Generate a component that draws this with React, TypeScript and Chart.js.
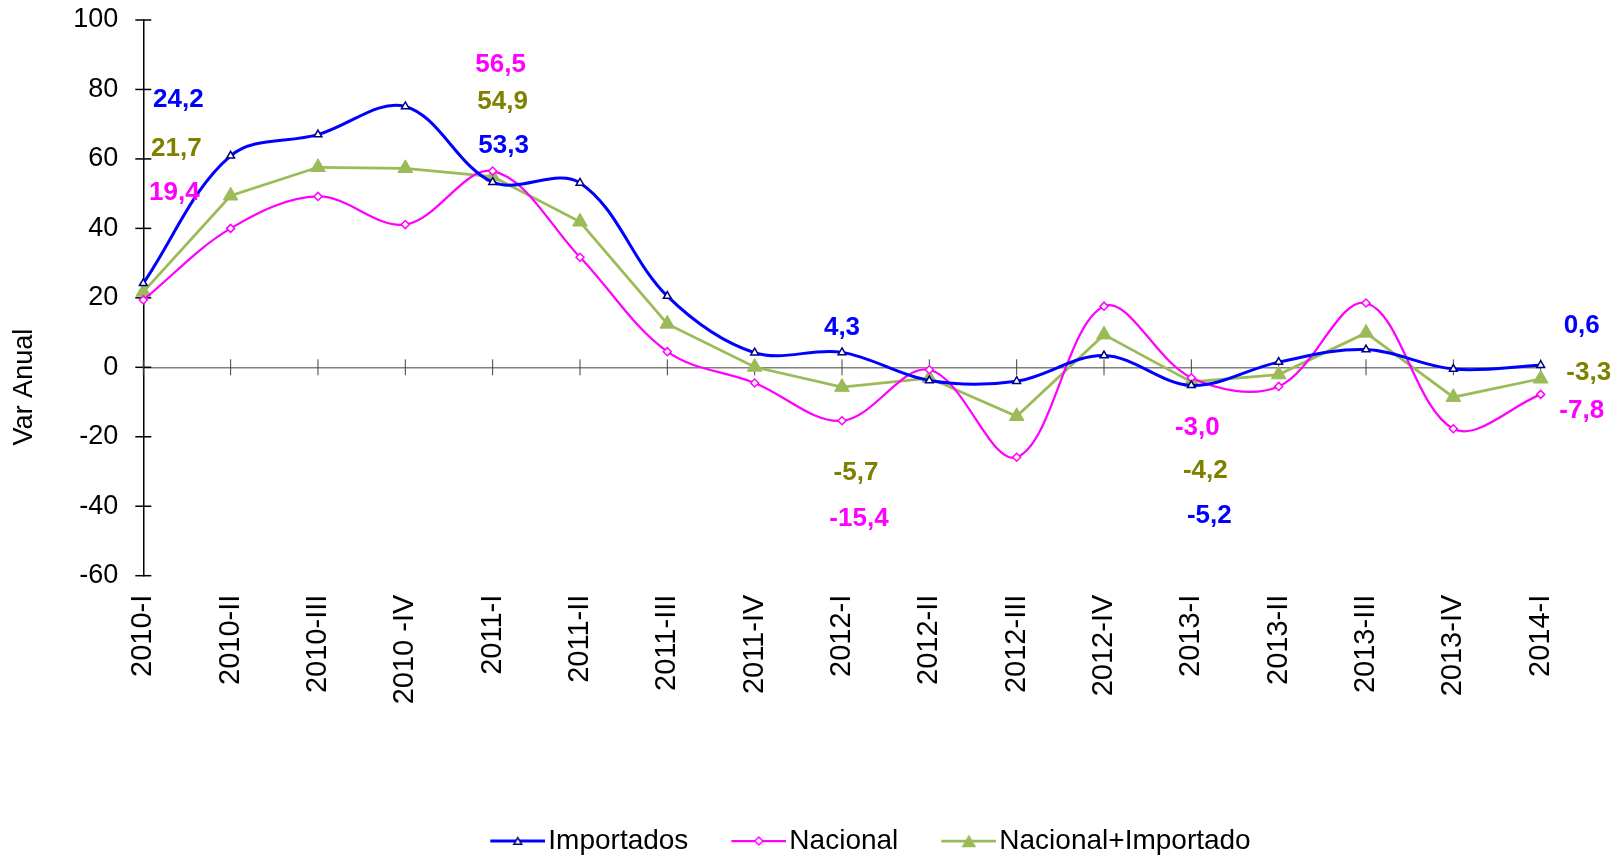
import React, { useEffect, useRef } from 'react';
import { Chart, registerables } from 'chart.js';

Chart.register(...registerables);

const FONT = 'Liberation Sans, Arial, sans-serif';

const categories = [
  '2010-I', '2010-II', '2010-III', '2010 -IV', '2011-I', '2011-II', '2011-III', '2011-IV',
  '2012-I', '2012-II', '2012-III', '2012-IV', '2013-I', '2013-II', '2013-III', '2013-IV', '2014-I',
];
const importados = [24.2, 60.9, 67.0, 75.1, 53.3, 53.1, 20.5, 4.2, 4.3, -3.8, -4.0, 3.4, -5.2, 1.5, 5.1, -0.5, 0.6];
const nacional = [19.4, 40.0, 49.2, 41.1, 56.5, 31.7, 4.5, -4.5, -15.4, -0.7, -25.9, 17.6, -3.0, -5.5, 18.5, -17.7, -7.8];
const nacionalImportado = [21.7, 49.4, 57.6, 57.3, 54.9, 41.9, 12.5, 0.1, -5.7, -3.1, -14.1, 9.4, -4.2, -2.1, 9.9, -8.6, -3.3];

const seriesNames = ['Importados', 'Nacional', 'Nacional+Importado'];
const seriesValues = [importados, nacional, nacionalImportado];
const labelColors = ['#0000FF', '#FF00FF', '#808000'];

const yMin = -60;
const yMax = 100;
const yStep = 20;
const yTitle = 'Var Anual';

// which values carry a printed label: [series, category index]
const labelledPoints: [number, number][] = [
  [0, 0], [2, 0], [1, 0],
  [1, 4], [2, 4], [0, 4],
  [0, 8], [2, 8], [1, 8],
  [1, 12], [2, 12], [0, 12],
  [0, 16], [2, 16], [1, 16],
];
// placement of those labels (value height on the y scale, px shift to the right)
const labelPlacement: [number, number][] = [
  [77.1, 35], [62.9, 33], [50.1, 31],
  [87.1, 8], [76.3, 10], [63.8, 11],
  [11.5, 0], [-30.4, 14], [-43.6, 17],
  [-17.5, 6], [-29.9, 14], [-42.9, 18],
  [12.0, 41], [-1.6, 48], [-12.4, 41],
];

const fmt = (v: number) => v.toFixed(1).replace('.', ',');

function drawTri(ctx: CanvasRenderingContext2D, x: number, y: number, r: number) {
  ctx.beginPath();
  for (let k = 0; k < 3; k++) {
    const a = (k * 2 * Math.PI) / 3;
    const px = x + Math.sin(a) * r;
    const py = y - Math.cos(a) * r;
    if (k === 0) ctx.moveTo(px, py);
    else ctx.lineTo(px, py);
  }
  ctx.closePath();
}
function drawDiamond(ctx: CanvasRenderingContext2D, x: number, y: number, r: number) {
  ctx.beginPath();
  ctx.moveTo(x, y - r);
  ctx.lineTo(x + r, y);
  ctx.lineTo(x, y + r);
  ctx.lineTo(x - r, y);
  ctx.closePath();
}

function makeIcon(kind: number): HTMLCanvasElement {
  const c = document.createElement('canvas');
  c.width = 89;
  c.height = 24;
  const ctx = c.getContext('2d')!;
  const lineColor = ['#0000FF', '#FF00FF', '#9BBB59'][kind];
  const lw = [3, 2.25, 2.75][kind];
  ctx.strokeStyle = lineColor;
  ctx.lineWidth = lw;
  ctx.beginPath();
  ctx.moveTo(34, 12);
  ctx.lineTo(89, 12);
  ctx.stroke();
  const mx = 61.5;
  if (kind === 0) {
    drawTri(ctx, mx, 13, 4.5);
    ctx.fillStyle = '#fff';
    ctx.fill();
    ctx.strokeStyle = '#000080';
    ctx.lineWidth = 1.5;
    ctx.stroke();
  } else if (kind === 1) {
    drawDiamond(ctx, mx, 12, 4);
    ctx.fillStyle = '#fff';
    ctx.fill();
    ctx.strokeStyle = '#FF00FF';
    ctx.lineWidth = 1.5;
    ctx.stroke();
  } else {
    drawTri(ctx, mx, 14, 8.5);
    ctx.fillStyle = '#9BBB59';
    ctx.fill();
  }
  return c;
}

export default function App() {
  const ref = useRef<HTMLCanvasElement | null>(null);

  useEffect(() => {
    document.body.style.margin = '0';
    document.body.style.overflow = 'hidden';
    const canvas = ref.current!;
    const icons = [makeIcon(0), makeIcon(1), makeIcon(2)];

    const crossTicks = {
      id: 'crossTicks',
      beforeDatasetsDraw(chart: any) {
        const { ctx } = chart;
        const xs = chart.scales.x;
        const ys = chart.scales.y;
        ctx.save();
        ctx.strokeStyle = '#000';
        ctx.lineWidth = 1.5;
        ys.ticks.forEach((t: any) => {
          const py = ys.getPixelForValue(t.value);
          ctx.beginPath();
          ctx.moveTo(ys.right - 8, py);
          ctx.lineTo(ys.right + 8, py);
          ctx.stroke();
        });
        const y0 = ys.getPixelForValue(0);
        ctx.strokeStyle = '#404040';
        ctx.lineWidth = 1;
        categories.forEach((_, i) => {
          const px = xs.getPixelForValue(i);
          ctx.beginPath();
          ctx.moveTo(px, y0 - 8);
          ctx.lineTo(px, y0 + 8);
          ctx.stroke();
        });
        ctx.restore();
      },
    };

    const valueLabels = {
      id: 'valueLabels',
      afterDatasetsDraw(chart: any) {
        const { ctx } = chart;
        const xs = chart.scales.x;
        const ys = chart.scales.y;
        ctx.save();
        ctx.font = `bold 26px ${FONT}`;
        ctx.textAlign = 'center';
        ctx.textBaseline = 'middle';
        labelledPoints.forEach(([s, i], k) => {
          const [at, shift] = labelPlacement[k];
          ctx.fillStyle = labelColors[s];
          ctx.fillText(fmt(seriesValues[s][i]), xs.getPixelForValue(i) + shift, ys.getPixelForValue(at));
        });
        ctx.restore();
      },
    };

    const axisTitle = {
      id: 'axisTitle',
      afterDraw(chart: any) {
        const { ctx } = chart;
        ctx.save();
        ctx.font = `27px ${FONT}`;
        ctx.fillStyle = '#000';
        ctx.textAlign = 'center';
        ctx.textBaseline = 'middle';
        ctx.translate(chart.scales.y.left + 25, chart.scales.y.getPixelForValue(-5.7));
        ctx.rotate(-Math.PI / 2);
        ctx.fillText(yTitle, 0, 0);
        ctx.restore();
      },
    };

    const legendShift = {
      id: 'legendShift',
      afterLayout(chart: any) {
        const lg = chart.legend;
        if (!lg || !lg.lineWidths) return;
        const pad = lg.options.labels.padding;
        const total = lg.lineWidths[0];
        const x1 = (lg.left + pad + lg.right - total) / 2;
        const want = 870.5 - (total + 3) / 2;
        const dx = want - x1;
        lg.left += dx;
        lg.right += dx;
      },
    };

    const chart = new Chart(canvas, {
      type: 'line',
      data: {
        labels: categories,
        datasets: [
          {
            label: seriesNames[0],
            data: importados,
            borderColor: '#0000FF',
            borderWidth: 3,
            tension: 0.35,
            pointStyle: 'triangle',
            pointRadius: 4.5,
            pointBorderColor: '#000080',
            pointBackgroundColor: '#FFFFFF',
            pointBorderWidth: 1.5,
            clip: false as any,
            fill: false,
          },
          {
            label: seriesNames[1],
            data: nacional,
            borderColor: '#FF00FF',
            borderWidth: 2.25,
            tension: 0.35,
            pointStyle: 'rectRot',
            pointRadius: 4,
            pointBorderColor: '#FF00FF',
            pointBackgroundColor: '#FFFFFF',
            pointBorderWidth: 1.5,
            clip: false as any,
            fill: false,
          },
          {
            label: seriesNames[2],
            data: nacionalImportado,
            borderColor: '#9BBB59',
            borderWidth: 2.75,
            tension: 0,
            pointStyle: 'triangle',
            pointRadius: 8.5,
            pointBorderColor: '#9BBB59',
            pointBackgroundColor: '#9BBB59',
            pointBorderWidth: 1,
            clip: false as any,
            fill: false,
          },
        ],
      },
      options: {
        responsive: false,
        animation: false,
        devicePixelRatio: 1,
        layout: { padding: { top: 20, right: 81.3, left: 0, bottom: 0 } },
        scales: {
          x: {
            type: 'category',
            offset: false,
            grid: { display: false, drawTicks: false },
            border: { display: false },
            ticks: {
              autoSkip: false,
              maxRotation: 90,
              minRotation: 90,
              padding: 19,
              color: '#000',
              font: { family: FONT, size: 29 },
            },
            afterFit: (s: any) => {
              s.height = 231.3;
            },
          },
          y: {
            min: yMin,
            max: yMax,
            ticks: {
              stepSize: yStep,
              padding: 0,
              color: '#000',
              font: { family: FONT, size: 27 },
              callback: (v: any) => String(v),
            },
            grid: {
              drawTicks: true,
              tickLength: 25,
              tickColor: 'rgba(0,0,0,0)',
              lineWidth: 1.5,
              color: (c: any) => (c.tick && c.tick.value === 0 ? '#808080' : 'rgba(0,0,0,0)'),
            },
            border: { display: true, color: '#000', width: 1.5 },
            afterFit: (s: any) => {
              s.width = 143.3;
            },
          },
        },
        plugins: {
          tooltip: { enabled: false },
          legend: {
            position: 'bottom',
            labels: {
              usePointStyle: true,
              pointStyleWidth: 67,
              padding: 20,
              color: '#000',
              font: { family: FONT, size: 28 },
              generateLabels: (ch: any) =>
                ch.data.datasets.map((ds: any, i: number) => ({
                  text: ds.label,
                  pointStyle: icons[i],
                  datasetIndex: i,
                  hidden: false,
                  lineWidth: 0,
                  fillStyle: 'rgba(0,0,0,0)',
                  strokeStyle: 'rgba(0,0,0,0)',
                  fontColor: '#000',
                })),
            },
          },
        },
      },
      plugins: [crossTicks, valueLabels, axisTitle, legendShift],
    });

    return () => chart.destroy();
  }, []);

  return <canvas ref={ref} width={1622} height={865} style={{ display: 'block' }} />;
}
